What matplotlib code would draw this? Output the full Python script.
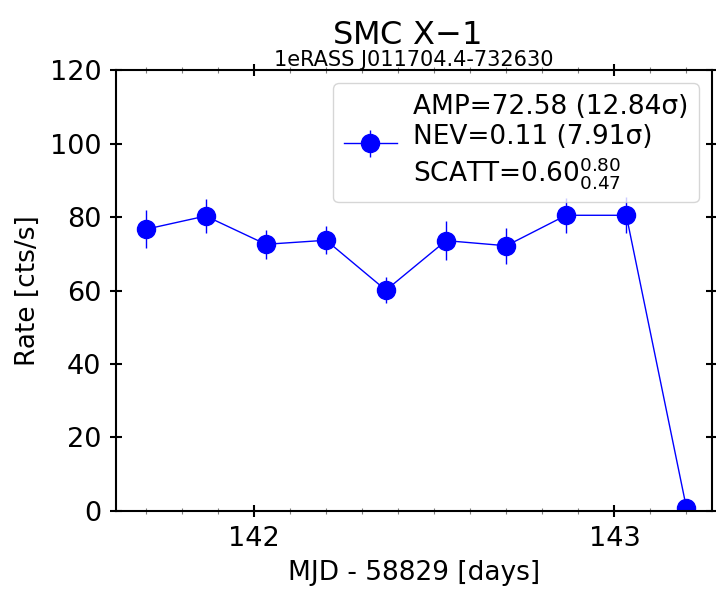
import numpy as np
import matplotlib
matplotlib.use("Agg")
import matplotlib.pyplot as plt
from matplotlib.ticker import MultipleLocator

# light curve (MJD - 58829)
t = [141.70, 141.866, 142.033, 142.20, 142.366, 142.533, 142.70, 142.866, 143.033, 143.20]
rate = [76.7, 80.3, 72.6, 73.7, 60.1, 73.6, 72.2, 80.5, 80.5, 0.8]
rate_err = [5.2, 4.6, 4.0, 3.8, 3.5, 5.3, 4.9, 4.7, 4.9, 0.3]

label = "AMP=72.58 (12.84σ)\nNEV=0.11 (7.91σ)\nSCATT=0.60$^{0.80}_{0.47}$"

fig = plt.figure(figsize=(7.16, 5.9), dpi=100)
ax = fig.add_axes([0.162, 0.134, 0.832, 0.747])

ax.errorbar(t, rate, yerr=rate_err, fmt='o', color='blue', ecolor='blue',
            ms=13, lw=1, elinewidth=1, ls='-', label=label)

ax.set_xlim(141.617, 143.27)
ax.set_ylim(0, 120)
ax.xaxis.set_major_locator(MultipleLocator(1))
ax.xaxis.set_minor_locator(MultipleLocator(0.1))
ax.yaxis.set_major_locator(MultipleLocator(20))
ax.tick_params(which='both', direction='inout', top=True, right=True)
ax.tick_params(which='major', length=9, width=1.5, labelsize=19.5, pad=6)
ax.tick_params(which='minor', length=5, width=0.8, color='0.5')
for s in ax.spines.values():
    s.set_linewidth(1.5)

ax.set_xlabel("MJD - 58829 [days]", fontsize=19, labelpad=6)
ax.set_ylabel("Rate [cts/s]", fontsize=19, labelpad=6)
ax.set_title("1eRASS J011704.4-732630", fontsize=15, pad=3)
fig.text(0.567, 0.94, "SMC X$-$1", fontsize=23, ha='center', va='center')

ax.legend(loc='upper right', fontsize=19, handlelength=2, borderaxespad=0.5,
          labelspacing=0.05, handletextpad=0.6)

fig.savefig("out.png", dpi=100)
